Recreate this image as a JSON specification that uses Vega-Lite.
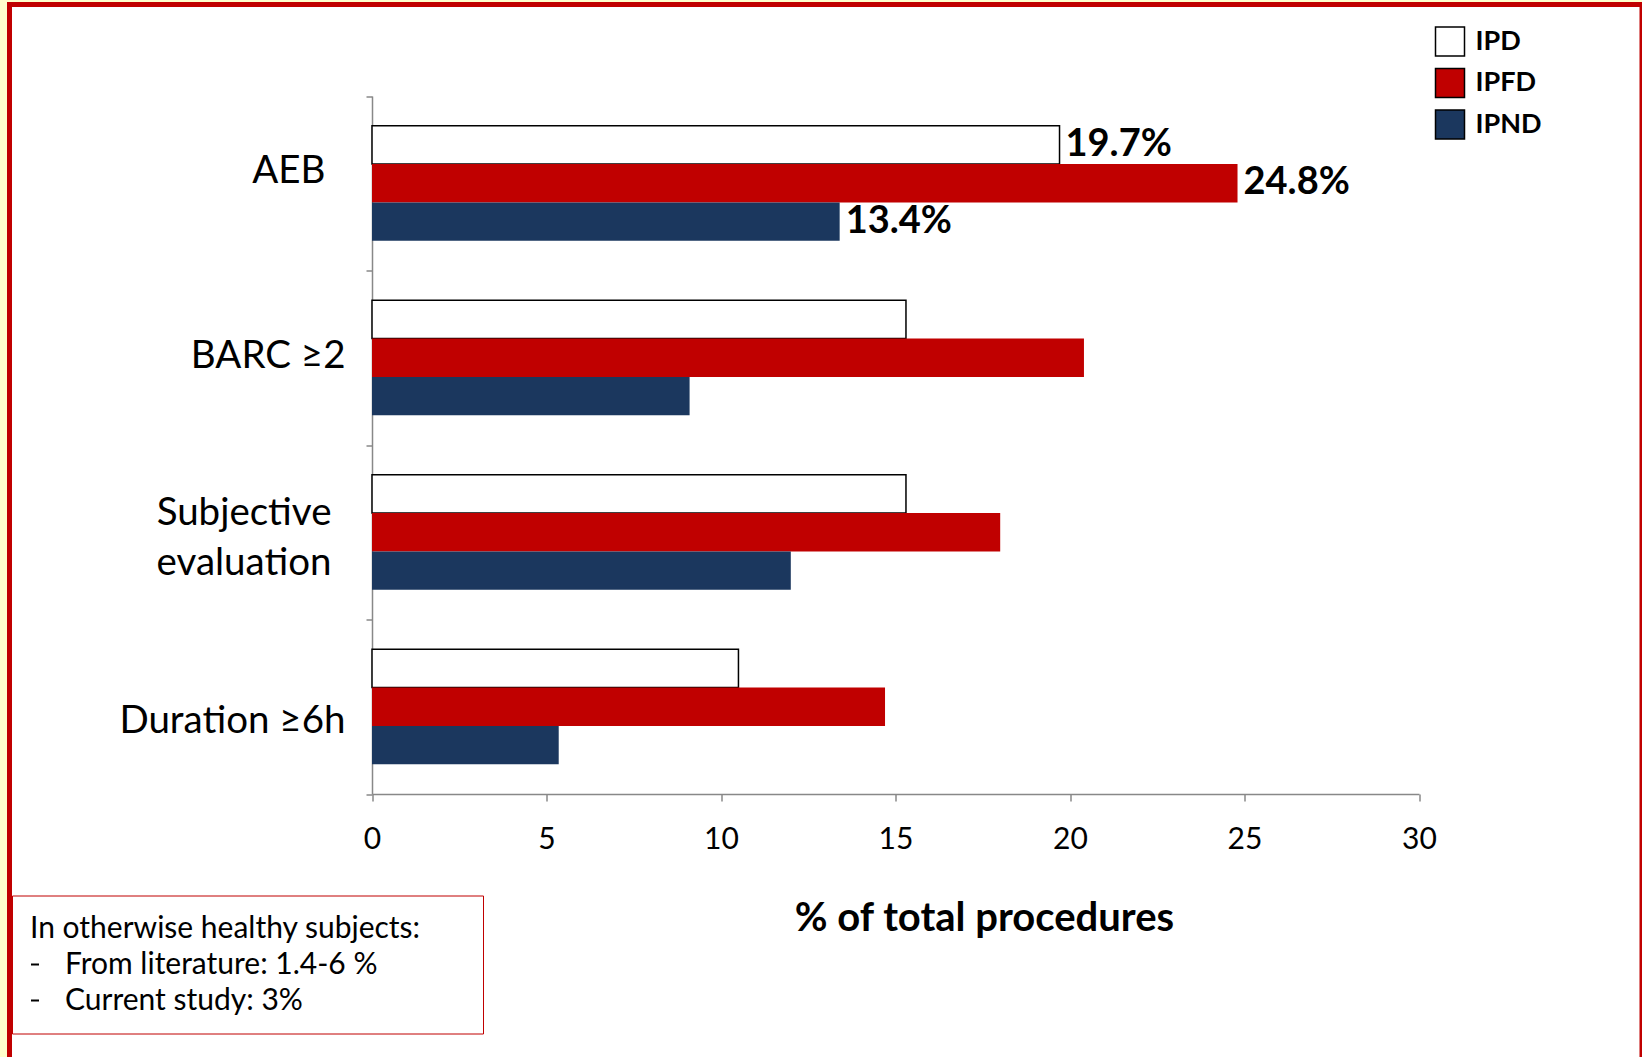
{
  "$schema": "https://vega.github.io/schema/vega-lite/v6.json",
  "width": 1632.5,
  "height": 1055.5,
  "autosize": {"type": "none"},
  "padding": {"left": 9.5, "top": 4.5, "right": 0, "bottom": -3},
  "background": "#FFFFCC",
  "view": {"fill": "#FFFFFF", "stroke": "#C00000", "strokeWidth": 5},
  "config": {
    "view": {"fill": "#FFFFFF", "stroke": "#C00000", "strokeWidth": 5},
    "style": {"cell": {"fill": "#FFFFFF", "fillOpacity": 1}},
    "font": "Lato",
    "axis": {"grid": false, "domainColor": "#888888", "domainWidth": 1.5, "tickColor": "#888888", "tickWidth": 1.5, "labelColor": "#000000", "titleColor": "#000000", "labelFont": "Lato", "titleFont": "Lato"},
    "legend": {"labelFont": "Lato", "titleFont": "Lato"}
  },
  "datasets": {
    "bars": [
      {"category": "AEB", "group": "IPD", "value": 19.7, "label": "19.7%"},
      {"category": "AEB", "group": "IPFD", "value": 24.8, "label": "24.8%"},
      {"category": "AEB", "group": "IPND", "value": 13.4, "label": "13.4%"},
      {"category": "BARC ≥2", "group": "IPD", "value": 15.3},
      {"category": "BARC ≥2", "group": "IPFD", "value": 20.4},
      {"category": "BARC ≥2", "group": "IPND", "value": 9.1},
      {"category": "Subjective evaluation", "group": "IPD", "value": 15.3},
      {"category": "Subjective evaluation", "group": "IPFD", "value": 18.0},
      {"category": "Subjective evaluation", "group": "IPND", "value": 12.0},
      {"category": "Duration ≥6h", "group": "IPD", "value": 10.5},
      {"category": "Duration ≥6h", "group": "IPFD", "value": 14.7},
      {"category": "Duration ≥6h", "group": "IPND", "value": 5.35}
    ],
    "notes": [
      {"note": "From literature: 1.4-6 %"},
      {"note": "Current study: 3%"}
    ]
  },
  "layer": [
    {
      "data": {"name": "bars"},
      "mark": {"type": "bar", "strokeWidth": 1.5},
      "encoding": {
        "y": {
          "field": "category", "type": "nominal",
          "sort": ["AEB", "BARC ≥2", "Subjective evaluation", "Duration ≥6h"],
          "scale": {"range": [91.5, 789.5], "paddingInner": 0, "paddingOuter": 0},
          "axis": {
            "orient": "left", "offset": -362.5, "title": null, "tickBand": "extent",
            "tickSize": 6, "labelFontSize": 38.5, "labelLimit": 500,
            "labelLineHeight": 50,
            "labelPadding": {"expr": "datum.value == 'AEB' ? 41 : datum.value == 'Subjective evaluation' ? 35 : 21"},
            "labelOffset": {"expr": "datum.value == 'AEB' ? -13 : datum.value == 'Subjective evaluation' ? -20 : datum.value == 'Duration ≥6h' ? 14 : -2"},
            "labelExpr": "datum.value == 'Subjective evaluation' ? ['Subjective', 'evaluation'] : datum.value"
          }
        },
        "x": {
          "field": "value", "type": "quantitative",
          "scale": {"domain": [0, 30], "range": [362.5, 1409.5], "nice": false},
          "axis": {
            "orient": "bottom", "offset": -266, "values": [0, 5, 10, 15, 20, 25, 30],
            "tickSize": 7, "labelFontSize": 30, "labelPadding": 23, "labelFlush": false,
            "title": "% of total procedures", "titleFontSize": 40, "titleFontWeight": "bold",
            "titleX": 974.5, "titleY": 124, "titleBaseline": "middle"
          }
        },
        "yOffset": {
          "field": "group", "type": "nominal", "sort": ["IPD", "IPFD", "IPND"],
          "scale": {"paddingOuter": 0.776, "paddingInner": 0}
        },
        "fill": {
          "field": "group", "type": "nominal",
          "scale": {"domain": ["IPD", "IPFD", "IPND"], "range": ["#FFFFFF", "#C00000", "#1B375E"]},
          "legend": {
            "orient": "none", "legendX": 1425, "legendY": 21.5, "title": null,
            "symbolType": "square", "symbolSize": 841, "symbolStrokeColor": "#000000",
            "symbolStrokeWidth": 1.5, "labelFontSize": 27, "labelFontWeight": "bold",
            "labelColor": "#000000", "rowPadding": 6.5, "labelOffset": 10, "padding": 0
          }
        },
        "stroke": {"condition": {"test": "datum.group === 'IPD'", "value": "#000000"}, "value": "transparent"}
      }
    },
    {
      "data": {"name": "bars"},
      "transform": [{"filter": "datum.label"}],
      "mark": {"type": "text", "align": "left", "baseline": "middle", "dx": 6, "fontSize": 38, "fontWeight": "bold", "font": "Lato", "color": "#000000"},
      "encoding": {
        "y": {"field": "category", "type": "nominal", "sort": ["AEB", "BARC ≥2", "Subjective evaluation", "Duration ≥6h"]},
        "x": {"field": "value", "type": "quantitative"},
        "yOffset": {"field": "group", "type": "nominal", "sort": ["IPD", "IPFD", "IPND"]},
        "text": {"field": "label"}
      }
    },
    {
      "data": {"name": "notes"},
      "mark": {"type": "point", "opacity": 0, "color": "#000000"},
      "encoding": {
        "shape": {
          "field": "note", "type": "nominal",
          "scale": {"domain": ["From literature: 1.4-6 %", "Current study: 3%"], "range": ["stroke", "stroke"]},
          "legend": {
            "orient": "none", "legendX": 2.5, "legendY": 891,
            "title": "In otherwise healthy subjects:\u2800\u2800", "titleFontSize": 30, "titleFontWeight": "normal",
            "titleColor": "#000000", "titlePadding": 6, "titleLimit": 800,
            "labelFontSize": 30, "labelColor": "#000000", "labelOffset": 15, "labelLimit": 700,
            "rowPadding": 6, "symbolSize": 64, "symbolOffset": -10, "symbolStrokeColor": "#000000", "symbolStrokeWidth": 2,
            "symbolOpacity": 1, "padding": 18, "strokeColor": "#C00000", "fillColor": "#FFFFFF"
          }
        }
      }
    }
  ]
}
